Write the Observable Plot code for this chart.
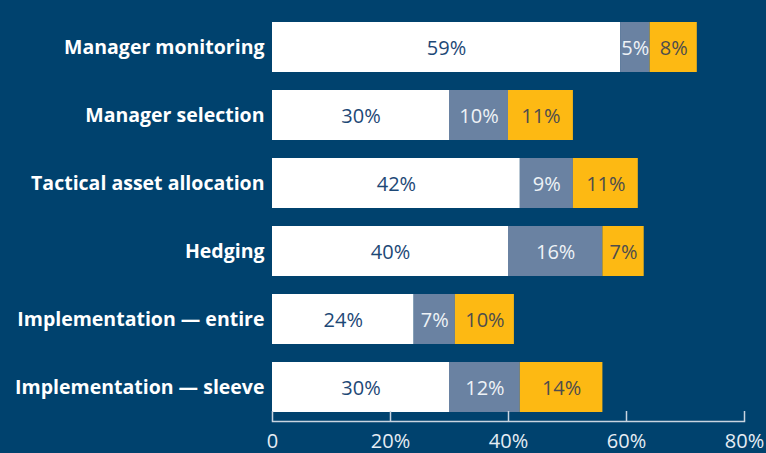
<!DOCTYPE html>
<html><head><meta charset="utf-8">
<script src="https://cdn.jsdelivr.net/npm/d3@7"></script>
<script src="https://cdn.jsdelivr.net/npm/@observablehq/plot@0.6"></script>
<style>
html,body{margin:0;padding:0;background:#00426e;}
#chart svg{display:block;}
</style></head>
<body><div id="chart"></div>
<script>
const categories = ["Manager monitoring","Manager selection","Tactical asset allocation","Hedging","Implementation \u2014 entire","Implementation \u2014 sleeve"];
const seriesNames = ["A","B","C"];
const seriesA = [59,30,42,40,24,30];
const seriesB = [5,10,9,16,7,12];
const seriesC = [8,11,11,7,10,14];
const xTicks = [0,20,40,60,80];
const tickLabels = ["0","20%","40%","60%","80%"];

const colors = ["#ffffff","#6a82a2","#fdb913"];
const textColors = ["#1d4876","#eef2f6","#4d4d4d"];

const rows = [];
categories.forEach((c,i)=>{
  [seriesA,seriesB,seriesC].forEach((s,j)=>rows.push({category:c, series:seriesNames[j], value:s[i]}));
});

const font = "'Open Sans', sans-serif";
const plot = Plot.plot({
  width: 766, height: 453,
  marginTop: 13, marginBottom: 32, marginLeft: 272, marginRight: 22,
  style: {background: "#00426e", fontFamily: font, overflow: "visible"},
  x: {domain: [0,80], label: null},
  y: {domain: categories, padding: 0, label: null},
  color: {domain: seriesNames, range: colors},
  marks: [
    Plot.barX(rows, Plot.stackX({x:"value", y:"category", fill:"series", insetTop:9, insetBottom:9})),
    ...seriesNames.map((s,j)=>Plot.text(rows, Plot.stackX({x:"value", y:"category", text:d=>d.series===s ? d.value+"%" : null, fill:textColors[j], fontSize:20, dy:1}))),
    Plot.frame({anchor:"bottom", stroke:"#c9d4e0", strokeWidth:1.5}),
    Plot.ruleX(xTicks, {stroke:"#c9d4e0", strokeWidth:1.5, insetTop:398}),
    Plot.axisX({ticks: xTicks, tickSize:0, tickPadding:12, tickFormat:(d)=>tickLabels[xTicks.indexOf(d)], fill:"#e6edf4", fontSize:20, stroke:null, label:null}),
    Plot.axisY({tickSize:0, tickPadding:8, fontSize:19.5, fontWeight:"bold", fill:"#ffffff", label:null})
  ]
});
document.getElementById("chart").appendChild(plot);
</script></body></html>
